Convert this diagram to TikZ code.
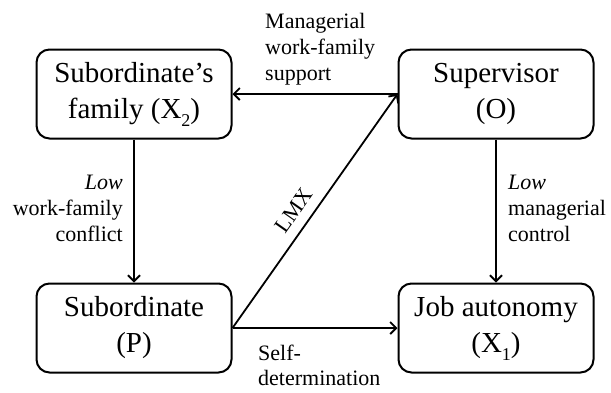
\documentclass[tikz,border=0pt]{standalone}
\usepackage{fontspec}
\setmainfont{Liberation Serif}
\usetikzlibrary{arrows.meta}
\newcommand\sbx[1]{\raisebox{-0.28em}{\fontsize{18}{18}\selectfont #1}}
\begin{document}
\begin{tikzpicture}[x=1pt,y=-1pt,
  box/.style={draw, line width=2pt, rounded corners=13pt, minimum width=195pt, minimum height=89pt, align=center, font=\fontsize{29}{36}\selectfont, inner sep=0pt},
  lab/.style={font=\fontsize{22}{26}\selectfont, inner sep=0pt},
  conn/.style={line width=1.8pt, -{Straight Barb[length=6pt,width=12pt,line width=1.8pt]}}]
\useasboundingbox (0,0) rectangle (611,392);
\node[box] (fam) at (134,94) {Subordinate's\\family (X\sbx{2})};
\node[box] (sup) at (496,94) {Supervisor\\(O)};
\node[box] (sub) at (134,328) {Subordinate\\(P)};
\node[box] (job) at (496,328) {Job autonomy\\(X\sbx{1})};
\draw[conn] (sup.west) -- (fam.east);
\draw[conn] (sub.east) -- (job.west);
\draw[conn] (fam.south) -- (sub.north);
\draw[conn] (sup.south) -- (job.north);
\draw[conn] (sub.east) -- node[lab, sloped, above=10pt, pos=0.46] (lmx) {LMX} (sup.west);
\node[lab, align=left, anchor=north west] (msup) at (265,13) {Managerial\\work-family\\support};
\node[lab, align=right, anchor=north east] (wfc) at (123,175) {\textit{Low}\\work-family\\conflict};
\node[lab, align=left, anchor=north west] (mc) at (508,175) {\textit{Low}\\managerial\\control};
\node[lab, align=left, anchor=north west, font=\fontsize{22}{25}\selectfont] (sd) at (258,345) {Self-\\determination};
\end{tikzpicture}
\end{document}
